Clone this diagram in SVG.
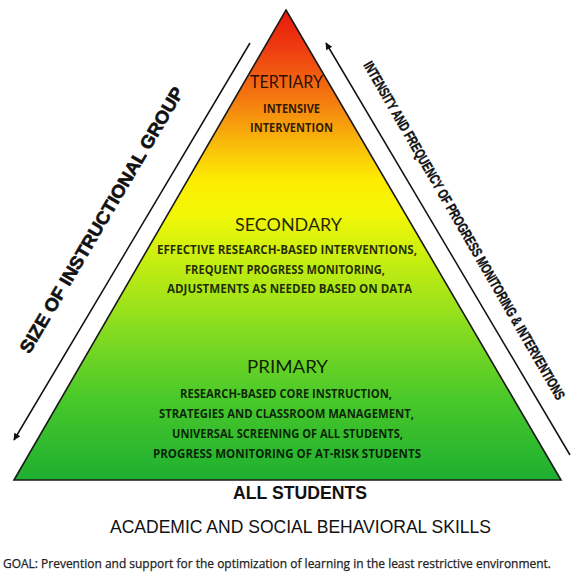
<svg xmlns="http://www.w3.org/2000/svg" width="573" height="573" viewBox="0 0 573 573">
  <defs>
    <linearGradient id="pyrGrad" gradientUnits="userSpaceOnUse" x1="0" y1="10" x2="0" y2="480">
      <stop offset="0" stop-color="#e8180c"/>
      <stop offset="0.08" stop-color="#ee3c10"/>
      <stop offset="0.19" stop-color="#f47a10"/>
      <stop offset="0.28" stop-color="#f9b80a"/>
      <stop offset="0.36" stop-color="#fdeb02"/>
      <stop offset="0.43" stop-color="#f4f806"/>
      <stop offset="0.53" stop-color="#c8ee10"/>
      <stop offset="0.68" stop-color="#86dc20"/>
      <stop offset="0.83" stop-color="#48c82a"/>
      <stop offset="1" stop-color="#1eaf30"/>
    </linearGradient>
    <marker id="arrow" viewBox="0 0 10 10" refX="9" refY="5" markerWidth="9" markerHeight="7" markerUnits="userSpaceOnUse" orient="auto">
      <path d="M0,0 L10,5 L0,10 z" fill="#111"/>
    </marker>
  </defs>
  <style>
    .tier-title { font-family: Lato, "Open Sans", "Liberation Sans", sans-serif; font-size: 17.5px; fill: #000; fill-opacity: 0.85; text-anchor: middle; }
    .tier-text { font-family: "Open Sans", Lato, "Liberation Sans", sans-serif; font-size: 11.5px; font-weight: bold; fill: #000; fill-opacity: 0.82; text-anchor: middle; }
    .side { font-family: "Liberation Sans", Arial, sans-serif; font-weight: bold; fill: #111; stroke: #111; text-anchor: middle; }
    .bottom { font-family: "Liberation Sans", Arial, sans-serif; fill: #111; text-anchor: middle; }
    .goal { font-family: "Open Sans", Lato, "Liberation Sans", sans-serif; font-size: 12px; fill: #222; stroke: #222; stroke-width: 0.25; }
    .conn { stroke: #111; stroke-width: 1.5; fill: none; }
  </style>
  <rect width="573" height="573" fill="#ffffff"/>

  <g id="pyramid">
    <polygon points="286,10 561,480 14,480" fill="url(#pyrGrad)" stroke="#1a1a1a" stroke-width="1.6" stroke-linejoin="miter"/>
  </g>

  <g id="tier-tertiary">
    <text class="tier-title" x="286.5" y="88" textLength="73" lengthAdjust="spacingAndGlyphs">TERTIARY</text>
    <text class="tier-text" x="291.5" y="113" textLength="57" lengthAdjust="spacingAndGlyphs">INTENSIVE</text>
    <text class="tier-text" x="291.5" y="132" textLength="83" lengthAdjust="spacingAndGlyphs">INTERVENTION</text>
  </g>

  <g id="tier-secondary">
    <text class="tier-title" x="288.5" y="231" textLength="107" lengthAdjust="spacingAndGlyphs">SECONDARY</text>
    <text class="tier-text" x="287" y="254" textLength="260" lengthAdjust="spacingAndGlyphs">EFFECTIVE RESEARCH-BASED INTERVENTIONS,</text>
    <text class="tier-text" x="285" y="274" textLength="200" lengthAdjust="spacingAndGlyphs">FREQUENT PROGRESS MONITORING,</text>
    <text class="tier-text" x="289.5" y="293" textLength="245" lengthAdjust="spacingAndGlyphs">ADJUSTMENTS AS NEEDED BASED ON DATA</text>
  </g>

  <g id="tier-primary">
    <text class="tier-title" x="287.5" y="373" textLength="81" lengthAdjust="spacingAndGlyphs">PRIMARY</text>
    <text class="tier-text" x="286" y="398" textLength="212" lengthAdjust="spacingAndGlyphs">RESEARCH-BASED CORE INSTRUCTION,</text>
    <text class="tier-text" x="286.5" y="418" textLength="255" lengthAdjust="spacingAndGlyphs">STRATEGIES AND CLASSROOM MANAGEMENT,</text>
    <text class="tier-text" x="287.5" y="438" textLength="231" lengthAdjust="spacingAndGlyphs">UNIVERSAL SCREENING OF ALL STUDENTS,</text>
    <text class="tier-text" x="287" y="458" textLength="268" lengthAdjust="spacingAndGlyphs">PROGRESS MONITORING OF AT-RISK STUDENTS</text>
  </g>

  <g id="connectors">
    <line class="conn" x1="250" y1="43" x2="14" y2="440" marker-end="url(#arrow)"/>
    <line class="conn" x1="570" y1="455" x2="326" y2="43" marker-end="url(#arrow)"/>
  </g>

  <g id="label-size">
    <text class="side" font-size="18" stroke-width="0.6" transform="translate(107,223) rotate(-59.5)" x="0" y="0" textLength="305" lengthAdjust="spacingAndGlyphs">SIZE OF INSTRUCTIONAL GROUP</text>
  </g>

  <g id="label-intensity">
    <text class="side" font-size="14.5" stroke-width="0.4" transform="translate(460,233) rotate(60)" x="0" y="0" textLength="388" lengthAdjust="spacingAndGlyphs">INTENSITY AND FREQUENCY OF PROGRESS MONITORING &amp; INTERVENTIONS</text>
  </g>

  <g id="label-bottom">
    <text class="bottom" font-size="19" font-weight="bold" x="300" y="499" textLength="134" lengthAdjust="spacingAndGlyphs">ALL STUDENTS</text>
    <text class="bottom" font-size="18.5" x="300.5" y="533" textLength="381" lengthAdjust="spacingAndGlyphs">ACADEMIC AND SOCIAL BEHAVIORAL SKILLS</text>
  </g>

  <g id="label-goal">
    <text class="goal" x="3" y="568" textLength="548" lengthAdjust="spacingAndGlyphs">GOAL: Prevention and support for the optimization of learning in the least restrictive environment.</text>
  </g>
</svg>
